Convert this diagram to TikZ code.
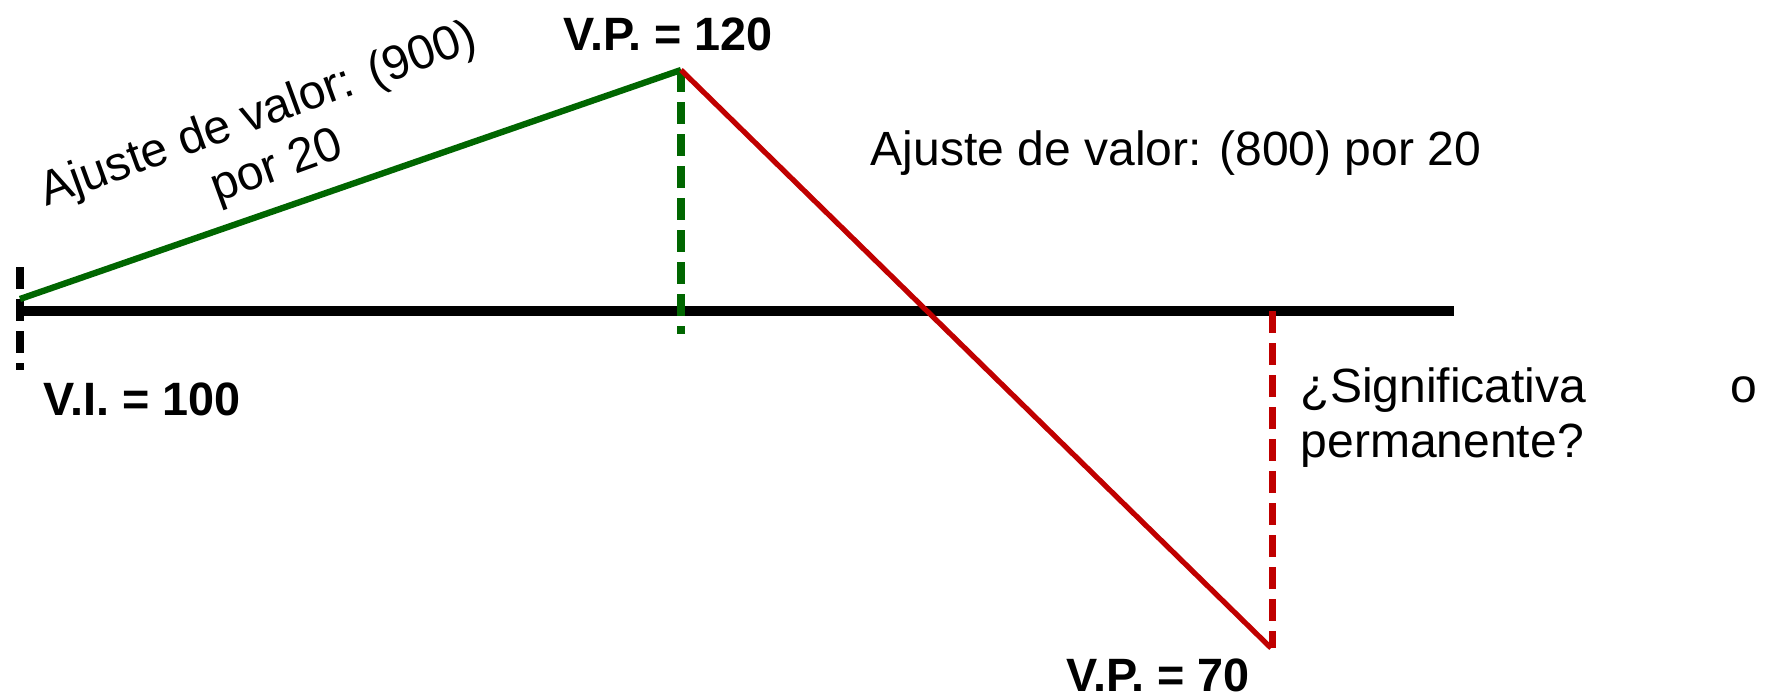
\documentclass[tikz,border=0pt]{standalone}
\usepackage{fontspec}
\setmainfont{Liberation Sans}
\definecolor{dgreen}{HTML}{006600}
\definecolor{dred}{HTML}{C00000}
\begin{document}
\begin{tikzpicture}[x=0.01cm,y=-0.01cm,
  txt/.style={inner sep=0pt,font=\fontsize{13.66pt}{15.5pt}\selectfont},
  btxt/.style={inner sep=0pt,font=\fontsize{13.3pt}{15.5pt}\selectfont\bfseries},
  dsh/.style={line width=2pt,dash pattern=on 6.3pt off 2.8pt}]
\useasboundingbox (0,0) rectangle (1767,694);
% key points
\coordinate (axL) at (16,311);
\coordinate (axR) at (1454,311);
\coordinate (vi) at (20,299);
\coordinate (tickT) at (20,267);
\coordinate (tickB) at (20,370);
\coordinate (vp1) at (681,70);
\coordinate (vp1b) at (681,334);
\coordinate (vp2) at (1271,648);
\coordinate (vp2t) at (1272,311);
% axis
\draw[line width=2.6pt] (axL) -- (axR);
\draw[dsh,black] (tickT) -- (tickB);
% green rise
\draw[dgreen,line width=1.8pt] (vi) -- (vp1);
\draw[dsh,dgreen] (vp1) -- (vp1b);
% red fall
\draw[dred,line width=1.5pt] (vp1) -- (vp2);
\draw[dsh,dred] (vp2t) -- (vp2 -| vp2t);
% labels
\node[btxt,anchor=base] (lvp1) at (668,50) {V.P. = 120};
\node[btxt,anchor=base west] (lvi) at (43,415) {V.I. = 100};
\node[btxt,anchor=base] (lvp2) at (1158,691) {V.P. = 70};
\node[txt,anchor=base west] (l800) at (870,165) {Ajuste de valor: (800) por 20};
\node[txt,align=center,rotate=20] (l900) at (268,142) {Ajuste de valor: (900)\\por 20};
\node[txt,anchor=north west,text width=4.56cm,align=left] (lsig) at (1300,367)
  {¿Significativa\hfill o\\permanente?};
\end{tikzpicture}
\end{document}
